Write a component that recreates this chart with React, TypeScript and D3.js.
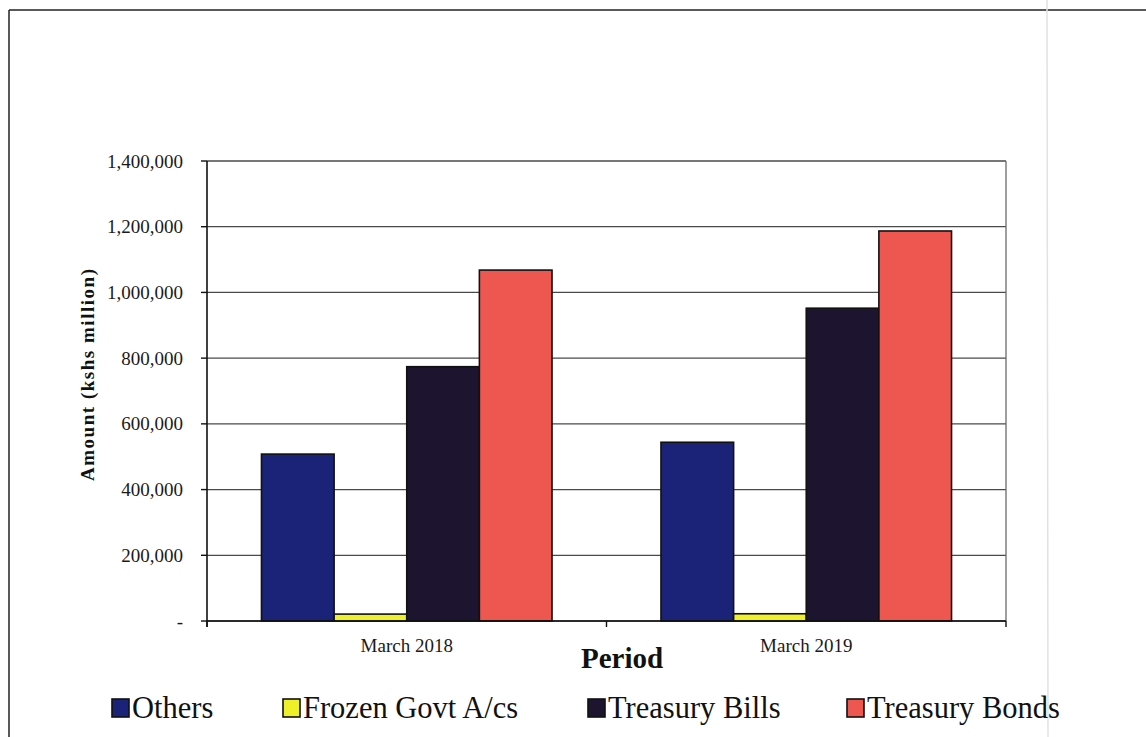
import React from "react";
import * as d3 from "d3";

// Government debt by holder type, kshs million
const categories = ["March 2018", "March 2019"];
const seriesNames = ["Others", "Frozen Govt A/cs", "Treasury Bills", "Treasury Bonds"];
const others = [508000, 544000];
const frozenGovt = [21000, 22000];
const treasuryBills = [774000, 952000];
const treasuryBonds = [1068000, 1187000];
const yTicks = [0, 200000, 400000, 600000, 800000, 1000000, 1200000, 1400000];

const seriesColors = ["#1b2378", "#eef02a", "#1d1530", "#ee5750"];
const seriesValues = [others, frozenGovt, treasuryBills, treasuryBonds];

const W = 1146;
const H = 737;
const plot = { left: 207, right: 1006, top: 161, bottom: 621 };
const FONT = "'Liberation Serif', 'Times New Roman', serif";

const fmt = (v: number) => (v === 0 ? "-" : d3.format(",")(v));

export default function App() {
  const x0 = d3
    .scaleBand<string>()
    .domain(categories)
    .range([plot.left, plot.right])
    .padding(0);
  const x1 = d3
    .scaleBand<string>()
    .domain(seriesNames)
    .range([0, x0.bandwidth()])
    .paddingInner(0)
    .paddingOuter(0.75);
  const y = d3.scaleLinear().domain([0, 1400000]).range([plot.bottom, plot.top]);

  const legendX = [112, 283, 588, 847];
  const legendY = 718;

  return (
    <svg
      width={W}
      height={H}
      style={{ position: "absolute", left: 0, top: 0, background: "#fff" }}
      fontFamily={FONT}
    >
      <rect x={0} y={0} width={W} height={H} fill="#fff" />
      {/* page frame */}
      <line x1={9} y1={10} x2={W} y2={10} stroke="#222" strokeWidth={1.5} />
      <line x1={9} y1={10} x2={9} y2={H} stroke="#222" strokeWidth={1.5} />
      <line x1={1047} y1={0} x2={1048} y2={H} stroke="#e2e2e2" strokeWidth={1.5} />

      {/* gridlines */}
      {yTicks.map((t) => (
        <line
          key={"g" + t}
          x1={plot.left}
          x2={plot.right}
          y1={y(t)}
          y2={y(t)}
          stroke="#4a4a4a"
          strokeWidth={1.3}
        />
      ))}
      {/* plot frame right */}
      <line x1={plot.right} x2={plot.right} y1={plot.top} y2={plot.bottom} stroke="#6a6a6a" strokeWidth={1.3} />

      {/* bars */}
      {categories.map((c, ci) =>
        seriesNames.map((s, si) => {
          const v = seriesValues[si][ci];
          const bx = (x0(c) ?? 0) + (x1(s) ?? 0);
          return (
            <rect
              key={c + s}
              x={bx}
              y={y(v)}
              width={x1.bandwidth()}
              height={plot.bottom - y(v)}
              fill={seriesColors[si]}
              stroke="#111"
              strokeWidth={1.6}
            />
          );
        })
      )}

      {/* y axis */}
      <line x1={plot.left} x2={plot.left} y1={plot.top} y2={plot.bottom + 6} stroke="#111" strokeWidth={1.6} />
      {yTicks.map((t) => (
        <g key={"t" + t}>
          <line x1={plot.left - 6} x2={plot.left} y1={y(t)} y2={y(t)} stroke="#111" strokeWidth={1.4} />
          <text
            x={183}
            y={y(t)}
            textAnchor="end"
            dominantBaseline="central"
            fontSize={19}
            fill="#1a1a1a"
          >
            {fmt(t)}
          </text>
        </g>
      ))}

      {/* x axis */}
      <line x1={plot.left} x2={plot.right} y1={plot.bottom} y2={plot.bottom} stroke="#111" strokeWidth={1.6} />
      {[...categories.map((c) => x0(c) ?? 0), plot.right].map((bx, i) => (
        <line key={"xt" + i} x1={bx} x2={bx} y1={plot.bottom} y2={plot.bottom + 6} stroke="#111" strokeWidth={1.4} />
      ))}
      {categories.map((c) => (
        <text
          key={"xl" + c}
          x={(x0(c) ?? 0) + x0.bandwidth() / 2}
          y={652}
          textAnchor="middle"
          fontSize={19}
          fill="#1a1a1a"
        >
          {c}
        </text>
      ))}

      {/* axis titles */}
      <text x={622} y={668} textAnchor="middle" fontSize={29} fontWeight="bold" fill="#111">
        Period
      </text>
      <text
        transform={`translate(94,375) rotate(-90)`}
        textAnchor="middle"
        fontSize={19}
        fontWeight="bold"
        fill="#111"
        textLength={212}
        lengthAdjust="spacing"
      >
        Amount (kshs million)
      </text>

      {/* legend */}
      {seriesNames.map((s, i) => (
        <g key={"lg" + s}>
          <rect
            x={legendX[i]}
            y={legendY - 19}
            width={17}
            height={18}
            fill={seriesColors[i]}
            stroke="#111"
            strokeWidth={1.6}
          />
          <text x={legendX[i] + 20} y={legendY} fontSize={30.5} fill="#111">
            {s}
          </text>
        </g>
      ))}
    </svg>
  );
}
